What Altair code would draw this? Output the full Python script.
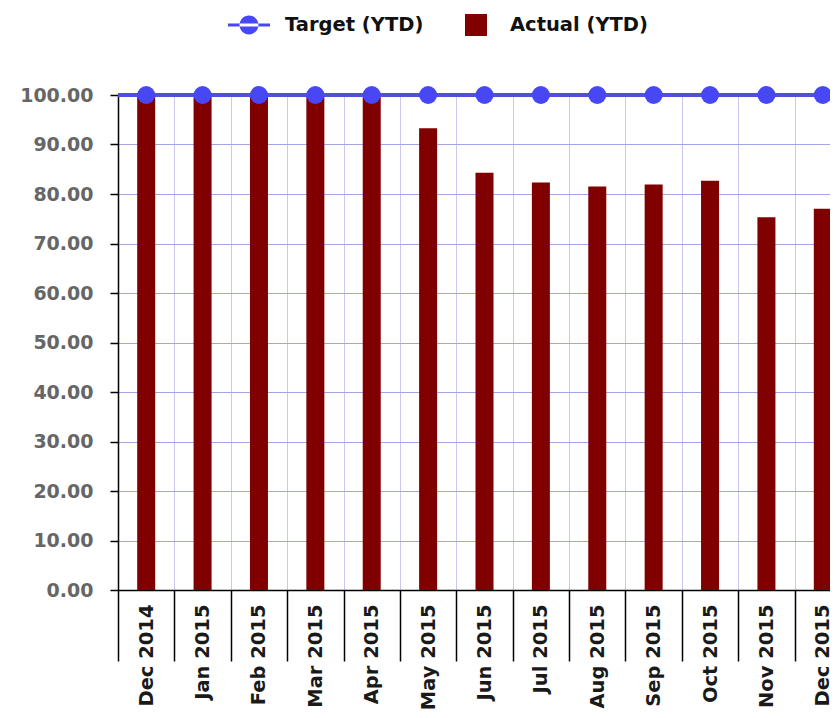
import altair as alt
import pandas as pd

months = ["Dec 2014", "Jan 2015", "Feb 2015", "Mar 2015", "Apr 2015", "May 2015",
          "Jun 2015", "Jul 2015", "Aug 2015", "Sep 2015", "Oct 2015", "Nov 2015", "Dec 2015"]
actual = [100.0, 100.0, 100.0, 100.0, 100.0, 93.3, 84.3, 82.3, 81.5, 81.9, 82.7, 75.3, 77.0]
target = [100.0, 100.0, 100.0, 100.0, 100.0, 100.0, 100.0, 100.0, 100.0, 100.0, 100.0, 100.0, 100.0]
y_ticks = [0, 10, 20, 30, 40, 50, 60, 70, 80, 90, 100]
target_name = "Target (YTD)"
actual_name = "Actual (YTD)"
target_color = "#4747f5"
actual_color = "#800000"

df = pd.DataFrame({"month": months, "actual": actual, "target": target})

FONT = "DejaVu Sans"
STEP_RANGE = [0, 733]

x_enc = alt.X(
    "month:N", sort=months,
    scale=alt.Scale(range=STEP_RANGE, paddingInner=0, paddingOuter=0),
    axis=alt.Axis(
        title=None, labelAngle=-90, tickBand="extent", tickSize=71, tickColor="#000000",
        tickWidth=1.5, domainColor="#000000", domainWidth=1.5, grid=True,
        gridColor="#c8c8f0", gridWidth=1, labelPadding=-57, labelFont=FONT,
        labelFontSize=19.5, labelFontWeight="bold", labelColor="#1a1a1a",
        labelOverlap=False, labelBound=False,
    ),
)

y_axis = alt.Axis(
    title=None, values=y_ticks, format=".2f", tickSize=8, tickColor="#000000",
    tickWidth=1.5, domainColor="#000000", domainWidth=1.5, grid=True,
    gridColor="#a4a4e6", gridWidth=1, labelFont=FONT, labelFontSize=19,
    labelFontWeight="bold", labelColor="#666666", labelPadding=17,
)
y_scale = alt.Scale(domain=[0, 100], nice=False)

legend_path = ("M-1,-0.075 L1,-0.075 L1,0.075 L-1,0.075 Z "
               "M-0.45,0 A0.45,0.45 0 1,0 0.45,0 A0.45,0.45 0 1,0 -0.45,0 Z")

common_legend = dict(
    title=None, orient="none", direction="horizontal",
    labelFont=FONT, labelFontSize=19.5, labelFontWeight="bold", labelColor="#111111",
    padding=0, symbolStrokeWidth=0, symbolOpacity=1,
)

target_legend = alt.Legend(legendX=110, legendY=-91, symbolType=legend_path,
                           symbolSize=1764, labelOffset=15, **common_legend)
actual_legend = alt.Legend(legendX=347, legendY=-81, symbolType="square",
                           symbolSize=484, labelOffset=23, **common_legend)

bars = alt.Chart(df).transform_calculate(series=f"'{actual_name}'").mark_bar(size=18).encode(
    x=x_enc,
    y=alt.Y("actual:Q", scale=y_scale, axis=y_axis),
    color=alt.Color("series:N", scale=alt.Scale(domain=[actual_name], range=[actual_color]),
                    legend=actual_legend),
)

rule = alt.Chart(df).mark_rule(color="#5050dc", strokeWidth=3).encode(
    x=alt.value(0), x2=alt.value(STEP_RANGE[1]),
    y=alt.Y("target:Q", scale=y_scale),
)

points = alt.Chart(df).transform_calculate(series=f"'{target_name}'").mark_circle(size=324, opacity=1).encode(
    x=alt.X("month:N", sort=months),
    y=alt.Y("target:Q", scale=y_scale),
    color=alt.Color("series:N", scale=alt.Scale(domain=[target_name], range=[target_color]),
                    legend=target_legend),
)

chart = alt.layer(bars, rule, points).resolve_scale(color="independent").properties(
    width=712, height=495,
    autosize=alt.AutoSizeParams(type="none"),
    padding={"left": 110, "top": 87, "right": 0, "bottom": 122},
    background="#ffffff",
).configure_view(stroke=None)

chart.save("out.html", embed_options={"renderer": "svg", "actions": False})
